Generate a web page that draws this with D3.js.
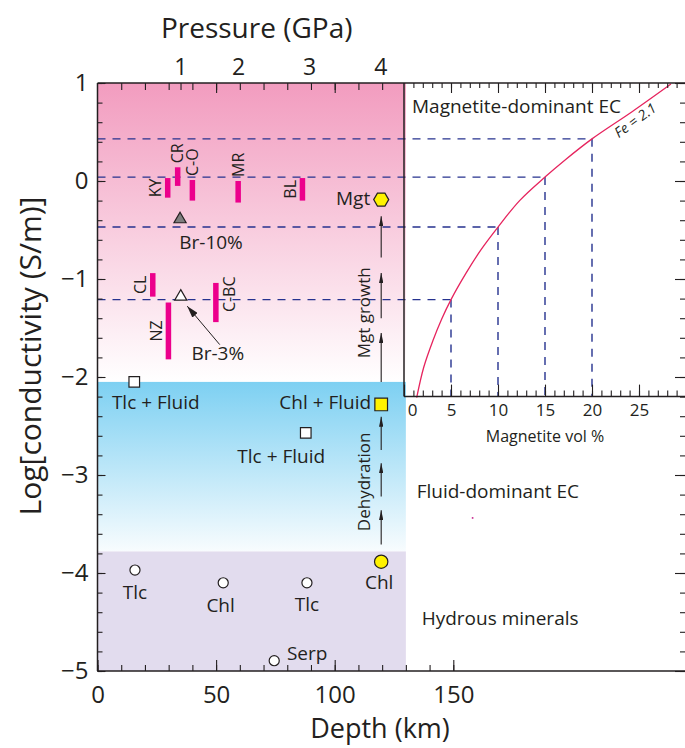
<!DOCTYPE html>
<html>
<head>
<meta charset="utf-8">
<script src="https://cdn.jsdelivr.net/npm/d3@7"></script>
<style>
  body { margin: 0; background: #fff; }
  text { font-family: "Open Sans", "Noto Sans", sans-serif; fill: #231f20; }
</style>
</head>
<body>
<div id="svg_div"></div>
<script>
// ---- values ----
// magenta conductivity bars (depth in km, log10 S/m range)
var barLabels = ["KY", "CR", "C-O", "MR", "BL", "CL", "NZ", "C-BC"];
var barDepth = [29.6, 33.8, 40, 59.3, 86.4, 23.3, 29.9, 49.9];
var barTop = [0.03, 0.14, 0.01, 0.0, 0.03, -0.94, -1.24, -1.04];
var barBottom = [-0.17, -0.05, -0.2, -0.22, -0.2, -1.18, -1.82, -1.44];
var barLabelSide = ["left", "above", "above", "above", "left", "left", "left", "right"];

// experimental points
var pointLabels = ["Br-10%", "Br-3%", "Mgt", "Chl + Fluid", "Chl", "Tlc + Fluid", "Tlc + Fluid", "Tlc", "Chl", "Tlc", "Serp"];
var pointDepth = [34.8, 35.1, 119.6, 119.6, 119.6, 15.5, 87.8, 15.8, 53, 88.3, 74.5];
var pointLog = [-0.39, -1.18, -0.19, -2.28, -3.885, -2.05, -2.57, -3.97, -4.10, -4.10, -4.895];
var pointShape = ["triangle", "triangle", "hexagon", "square", "circle", "square", "square", "circle", "circle", "circle", "circle"];
var pointFill = ["#7f7f7f", "#ffffff", "#fff200", "#fff200", "#fff200", "#ffffff", "#ffffff", "#ffffff", "#ffffff", "#ffffff", "#ffffff"];

// process arrows at 120 km (from -> to, log units)
var growthFrom = [-0.78, -1.40, -2.05], growthTo = [-0.36, -0.94, -1.55];
var dehydFrom = [-2.745, -3.22, -3.71], dehydTo = [-2.405, -2.88, -3.36];

// axis ticks
var depthTicks = [0, 50, 100, 150];
var logTicks = [1, 0, -1, -2, -3, -4, -5];
var pressureTicks = [1, 2, 3, 4];
var pressureDepth = [34.9, 59.3, 89.2, 119.2];
var volTicks = [0, 5, 10, 15, 20, 25];

// magnetite curve (Fe = 2.1) and its read-off guides
var curveVol = [1.35, 2.1, 3.07, 4, 5, 6.6, 8.2, 10, 12.3, 15, 17.2, 20, 24.3, 28.4];
var curveLog = [-2.21, -1.9, -1.63, -1.41, -1.21, -0.94, -0.70, -0.47, -0.2, 0.04, 0.22, 0.43, 0.71, 0.99];
var guideVol = [5, 10, 15, 20];
var guideLog = [-1.21, -0.47, 0.04, 0.43];

// background zones
var zoneNames = ["Magnetite-dominant EC", "Fluid-dominant EC", "Hydrous minerals"];
var zoneTop = [1, -2.05, -3.78];
var zoneBottom = [-2.05, -3.78, -5];

// ---- dimensions ----
var width = 685, height = 748;
var ink = "#231f20", magenta = "#ec008c", navy = "#26328f";
var panelEndDepth = 130, insetBottomLog = -2.2, rightEdge = 685;

var x = d3.scaleLinear().domain([0, 150]).range([97.5, 453.3]);
var y = d3.scaleLinear().domain([1, -5]).range([83, 671]);
var xv = d3.scaleLinear().domain([0, 25]).range([404, 639]);

var svg = d3.select("#svg_div")
  .append("svg")
  .attr("width", width)
  .attr("height", height);

var defs = svg.append("defs");

// vertical fade gradients for the zones
function addGradient(id, top, bottom) {
  var g = defs.append("linearGradient")
    .attr("id", id)
    .attr("x1", 0).attr("y1", 0).attr("x2", 0).attr("y2", 1);
  g.append("stop").attr("offset", "0%").attr("stop-color", top);
  g.append("stop").attr("offset", "100%").attr("stop-color", bottom);
}
addGradient("pinkFade", "#f29cbf", "#ffffff");
addGradient("blueFade", "#7dd0f2", "#f8fcfe");
var zoneFills = ["url(#pinkFade)", "url(#blueFade)", "#e2dcee"];

// arrow heads
function addMarker(id, len, half) {
  defs.append("marker")
    .attr("id", id)
    .attr("viewBox", `0 ${-half} ${len} ${half * 2}`)
    .attr("refX", len).attr("refY", 0)
    .attr("markerUnits", "userSpaceOnUse")
    .attr("markerWidth", len).attr("markerHeight", half * 2)
    .attr("orient", "auto")
    .append("path")
    .attr("d", `M0,${-half}L${len},0L0,${half}Z`)
    .attr("fill", ink);
}
addMarker("headSmall", 10, 2.2);
addMarker("headBig", 12, 3.5);

svg.selectAll("rect.zone")
  .data(zoneTop)
  .enter().append("rect")
  .attr("class", "zone")
  .attr("x", x(0))
  .attr("width", x(panelEndDepth) - x(0))
  .attr("y", d => y(d))
  .attr("height", (d, i) => y(zoneBottom[i]) - y(d))
  .attr("fill", (d, i) => zoneFills[i]);

// dashed read-off guides: across from the log axis, then down to the inset axis
guideVol.forEach(function(v, i) {
  svg.append("line")
    .attr("x1", x(0)).attr("x2", xv(v))
    .attr("y1", y(guideLog[i])).attr("y2", y(guideLog[i]))
    .attr("stroke", navy).attr("stroke-width", 1.4)
    .attr("stroke-dasharray", "8,7");
  svg.append("line")
    .attr("x1", xv(v)).attr("x2", xv(v))
    .attr("y1", y(guideLog[i])).attr("y2", y(insetBottomLog))
    .attr("stroke", navy).attr("stroke-width", 1.4)
    .attr("stroke-dasharray", "8,7");
});

// Fe = 2.1 curve
var curveLine = d3.line()
  .x(d => xv(d[0]))
  .y(d => y(d[1]))
  .curve(d3.curveCatmullRom);
svg.append("path")
  .datum(d3.zip(curveVol, curveLog))
  .attr("d", curveLine)
  .attr("fill", "none")
  .attr("stroke", "#e6245e")
  .attr("stroke-width", 1.3);

// stray speck in the source figure
svg.append("rect")
  .attr("x", x(157.8)).attr("y", y(-3.43))
  .attr("width", 1.6).attr("height", 1.6)
  .attr("fill", "#c4208a");

// ---- axes ----
function styleAxis(g, size) {
  g.select(".domain").remove();
  g.selectAll(".tick line").attr("stroke", ink).attr("stroke-width", 1.1);
  g.selectAll(".tick text").style("font-size", size + "px");
  return g;
}

// bottom depth axis
styleAxis(svg.append("g").attr("transform", `translate(0, ${y(-5)})`)
  .call(d3.axisBottom(x).tickValues(d3.range(0, 151, 10)).tickSize(-6).tickFormat("")), 0);
styleAxis(svg.append("g").attr("transform", `translate(0, ${y(-5)})`)
  .call(d3.axisBottom(x).tickValues(depthTicks).tickSize(-11).tickPadding(15)), 24);

// top depth ticks plus pressure labels
styleAxis(svg.append("g").attr("transform", `translate(0, ${y(1)})`)
  .call(d3.axisTop(x).tickValues(d3.range(10, 121, 10).concat([35])).tickSize(-7).tickFormat("")), 0);
styleAxis(svg.append("g").attr("transform", `translate(0, ${y(1)})`)
  .call(d3.axisTop(x).tickValues([50, 100]).tickSize(-10).tickFormat("")), 0);
styleAxis(svg.append("g").attr("transform", `translate(0, ${y(1)})`)
  .call(d3.axisTop(x).tickValues(pressureDepth).tickSize(0).tickPadding(8)
    .tickFormat((d, i) => pressureTicks[i])), 23);

// left log axis
styleAxis(svg.append("g").attr("transform", `translate(${x(0)}, 0)`)
  .call(d3.axisLeft(y).tickValues(d3.range(-5, 1.01, 0.2)).tickSize(-5).tickFormat("")), 0);
styleAxis(svg.append("g").attr("transform", `translate(${x(0)}, 0)`)
  .call(d3.axisLeft(y).tickValues(logTicks).tickSize(-8).tickPadding(9)
    .tickFormat(d3.format("d"))), 24);

// right log ticks
styleAxis(svg.append("g").attr("transform", `translate(${rightEdge}, 0)`)
  .call(d3.axisRight(y).tickValues(d3.range(-5, 1.01, 0.2)).tickSize(-5).tickFormat("")), 0);
styleAxis(svg.append("g").attr("transform", `translate(${rightEdge}, 0)`)
  .call(d3.axisRight(y).tickValues(logTicks).tickSize(-10).tickFormat("")), 0);

// inset magnetite axis, top and bottom
styleAxis(svg.append("g").attr("transform", `translate(0, ${y(1)})`)
  .call(d3.axisTop(xv).tickValues(d3.range(1, 30)).tickSize(-5).tickFormat("")), 0);
styleAxis(svg.append("g").attr("transform", `translate(0, ${y(1)})`)
  .call(d3.axisTop(xv).tickValues(volTicks.slice(1)).tickSize(-10).tickFormat("")), 0);
styleAxis(svg.append("g").attr("transform", `translate(0, ${y(insetBottomLog)})`)
  .call(d3.axisBottom(xv).tickValues(d3.range(1, 30)).tickSize(-6).tickFormat("")), 0);
var volAxis = styleAxis(svg.append("g").attr("transform", `translate(0, ${y(insetBottomLog)})`)
  .call(d3.axisBottom(xv).tickValues(volTicks).tickSize(-12).tickPadding(7)), 17);
volAxis.selectAll(".tick text").filter(d => d == 0).attr("dx", 8);

// frame lines
var frame = [
  [x(0), y(1), x(0), y(-5)],
  [x(0), y(1), rightEdge, y(1)],
  [x(0), y(-5), rightEdge, y(-5)],
  [xv(0), y(1), xv(0), y(insetBottomLog)],
  [xv(0), y(insetBottomLog), rightEdge, y(insetBottomLog)]
];
svg.selectAll("line.frame")
  .data(frame)
  .enter().append("line")
  .attr("class", "frame")
  .attr("x1", d => d[0]).attr("y1", d => d[1])
  .attr("x2", d => d[2]).attr("y2", d => d[3])
  .attr("stroke", ink).attr("stroke-width", 1.5);

// ---- magenta bars and their rotated labels ----
svg.selectAll("rect.bar")
  .data(barLabels)
  .enter().append("rect")
  .attr("class", "bar")
  .attr("x", (d, i) => x(barDepth[i]) - 2.75)
  .attr("width", 5.5)
  .attr("y", (d, i) => y(barTop[i]))
  .attr("height", (d, i) => y(barBottom[i]) - y(barTop[i]))
  .attr("fill", magenta);

barLabels.forEach(function(name, i) {
  var bx = x(barDepth[i]), side = barLabelSide[i], tx, ty, anchor;
  if (side == "left") {
    tx = bx - 12; ty = (y(barTop[i]) + y(barBottom[i])) / 2; anchor = "middle";
  } else if (side == "above") {
    tx = bx; ty = y(barTop[i]) - 4; anchor = "start";
  } else {
    tx = bx + 14; ty = y(barBottom[i]) - 10; anchor = "start";
  }
  svg.append("text")
    .attr("transform", `translate(${tx}, ${ty}) rotate(-90)`)
    .attr("text-anchor", anchor)
    .attr("dy", "0.35em")
    .style("font-size", "16px")
    .text(name);
});

// ---- process arrows at 120 km ----
function addArrows(from, to) {
  from.forEach(function(f, i) {
    svg.append("line")
      .attr("x1", x(119.6)).attr("x2", x(119.6))
      .attr("y1", y(f)).attr("y2", y(to[i]))
      .attr("stroke", ink).attr("stroke-width", 1.1)
      .attr("marker-end", "url(#headSmall)");
  });
}
addArrows(growthFrom, growthTo);
addArrows(dehydFrom, dehydTo);

svg.append("text")
  .attr("transform", `translate(${x(119.6) - 17}, ${y(-1.345)}) rotate(-90)`)
  .attr("text-anchor", "middle").attr("dy", "0.35em")
  .style("font-size", "17px")
  .text("Mgt growth");
svg.append("text")
  .attr("transform", `translate(${x(119.6) - 17}, ${y(-3.07)}) rotate(-90)`)
  .attr("text-anchor", "middle").attr("dy", "0.35em")
  .style("font-size", "17px")
  .text("Dehydration");

// ---- point markers ----
var hexR = 7.5;
var hexPath = d3.range(6).map(function(k) {
  var a = Math.PI / 3 * k;
  return [hexR * Math.cos(a), hexR * Math.sin(a)];
});
function shapePath(shape, fill) {
  if (shape == "hexagon") return "M" + hexPath.join("L") + "Z";
  if (shape == "triangle") return d3.symbol(d3.symbolTriangle, 64)();
  if (shape == "square") return d3.symbol(d3.symbolSquare, fill == "#fff200" ? 160 : 112)();
  return d3.symbol(d3.symbolCircle, fill == "#fff200" ? 140 : 80)();
}

// Br-3% leader arrow (drawn below the marker)
svg.append("line")
  .attr("x1", x(pointDepth[1]) + 39).attr("y1", y(pointLog[1]) + 48)
  .attr("x2", x(pointDepth[1]) + 6.5).attr("y2", y(pointLog[1]) + 9.5)
  .attr("stroke", ink).attr("stroke-width", 1)
  .attr("marker-end", "url(#headBig)");

svg.selectAll("path.point")
  .data(pointLabels)
  .enter().append("path")
  .attr("class", "point")
  .attr("transform", (d, i) => `translate(${x(pointDepth[i])}, ${y(pointLog[i])})`)
  .attr("d", (d, i) => shapePath(pointShape[i], pointFill[i]))
  .attr("fill", (d, i) => pointFill[i])
  .attr("stroke", ink)
  .attr("stroke-width", 1.2);

// label placement relative to each marker
var labelDx = [31, 37, -11, -10, -2, 21.5, -24.5, 0, -2.6, 0, 12.7];
var labelDy = [23, 57, -1, -2, 21, 20, 23.3, 22, 22.3, 21.7, -7.4];
var labelAnchor = ["middle", "middle", "end", "end", "middle", "middle", "middle", "middle", "middle", "middle", "start"];

svg.selectAll("text.pointLabel")
  .data(pointLabels)
  .enter().append("text")
  .attr("class", "pointLabel")
  .attr("x", (d, i) => x(pointDepth[i]) + labelDx[i])
  .attr("y", (d, i) => y(pointLog[i]) + labelDy[i])
  .attr("dy", "0.35em")
  .attr("text-anchor", (d, i) => labelAnchor[i])
  .style("font-size", "19px")
  .text(d => d);

// ---- zone names and inset labels ----
var zoneLabelX = [xv(0.85), xv(1.35), xv(1.88)];
var zoneLabelLog = [0.69, -3.235, -4.53];
svg.selectAll("text.zoneName")
  .data(zoneNames)
  .enter().append("text")
  .attr("class", "zoneName")
  .attr("x", (d, i) => zoneLabelX[i])
  .attr("y", (d, i) => y(zoneLabelLog[i]))
  .style("font-size", "19px")
  .text(d => d);

svg.append("text")
  .attr("transform", `translate(${xv(24.6)}, ${y(0.62)}) rotate(-36)`)
  .attr("text-anchor", "middle").attr("dy", "0.35em")
  .style("font-size", "14px").style("font-style", "italic")
  .text("Fe = 2.1");

svg.append("text")
  .attr("x", xv(15)).attr("y", y(-2.66))
  .attr("text-anchor", "middle")
  .style("font-size", "16px")
  .text("Magnetite vol %");

// ---- axis titles ----
svg.append("text")
  .attr("x", 256.7).attr("y", 38)
  .attr("text-anchor", "middle")
  .style("font-size", "28px")
  .text("Pressure (GPa)");

svg.append("text")
  .attr("transform", "translate(41, 356) rotate(-90)")
  .attr("text-anchor", "middle")
  .style("font-size", "30px")
  .text("Log[conductivity (S/m)]");

svg.append("text")
  .attr("x", 380).attr("y", 738)
  .attr("text-anchor", "middle")
  .style("font-size", "27px")
  .text("Depth (km)");
</script>
</body>
</html>
